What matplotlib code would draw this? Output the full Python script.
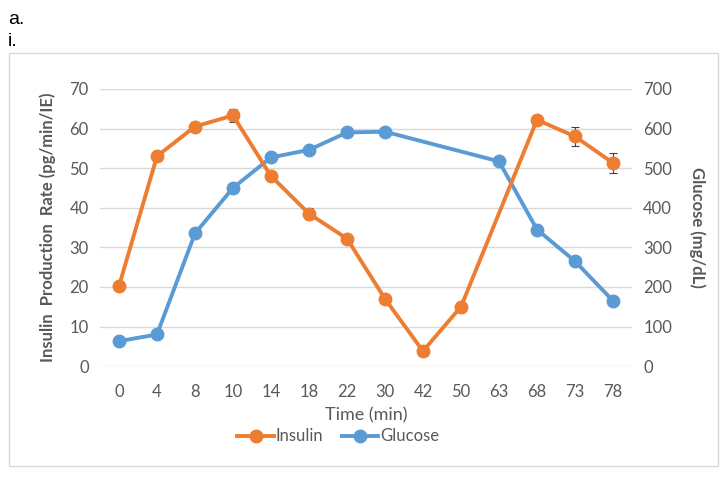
import numpy as np
import matplotlib.pyplot as plt
from matplotlib.patches import Rectangle
from matplotlib.lines import Line2D

# 数据
time_labels = ['0', '4', '8', '10', '14', '18', '22', '30', '42', '50', '63', '68', '73', '78']
insulin = [20.2, 53.0, 60.5, 63.3, 48.0, 38.5, 32.2, 17.0, 3.8, 15.0, np.nan, 62.2, 58.0, 51.3]
insulin_err = [0.5, 0.5, 0.5, 1.7, 0.5, 1.4, 0.5, 0.5, 0.5, 1.2, np.nan, 0.5, 2.4, 2.5]
glucose = [63, 80, 335, 450, 527, 546, 590, 592, np.nan, np.nan, 517, 345, 265, 165]

ORANGE = '#ED7D31'
BLUE = '#5B9BD5'
GREY = '#595959'

plt.rcParams['font.family'] = ['Lato', 'DejaVu Sans']

fig = plt.figure(figsize=(7.26, 4.78), dpi=100)

# 外框
fig.patches.append(Rectangle((0.0124, 0.025), 0.977, 0.864, transform=fig.transFigure,
                             fill=False, edgecolor='#d9d9d9', linewidth=1.0))
fig.text(0.011, 0.978, 'a.', fontsize=14, family='Liberation Sans', va='top')
fig.text(0.011, 0.932, 'i.', fontsize=14, family='Liberation Sans', va='top')

ax = fig.add_axes([0.1377, 0.234, 0.7328, 0.580])
ax2 = ax.twinx()

x = np.arange(len(time_labels))
ins = np.array(insulin, dtype=float)
err = np.array(insulin_err, dtype=float)
glu = np.array(glucose, dtype=float)
mi = ~np.isnan(ins)
mg = ~np.isnan(glu)

ax2.plot(x[mg], glu[mg], color=BLUE, lw=2.8, marker='o', ms=9)
ax.errorbar(x[mi], ins[mi], yerr=err[mi], color=ORANGE, lw=2.8, marker='o', ms=9,
            ecolor='#404040', elinewidth=0.8, capsize=3, capthick=0.8)

# 让橙色线在上层
ax.set_zorder(ax2.get_zorder() + 1)
ax.patch.set_visible(False)

ax.set_xlim(-0.5, len(time_labels) - 0.5)
ax.set_ylim(0, 70)
ax2.set_ylim(0, 700)
ax.set_yticks(range(0, 71, 10))
ax2.set_yticks(range(0, 701, 100))
ax.set_xticks(x)
ax.set_xticklabels(time_labels)

ax2.grid(axis='y', color='#d9d9d9', lw=1.0)
ax2.set_axisbelow(True)

for a in (ax, ax2):
    for s in a.spines.values():
        s.set_visible(False)
    a.tick_params(length=0, labelsize=12, colors=GREY, pad=8)
ax.tick_params(axis='x', pad=13)

ax.set_xlabel('Time (min)', fontsize=13, color=GREY, labelpad=5)
ax.set_ylabel('Insulin  Production  Rate (pg/min/IE)', fontsize=12, color=GREY,
              fontweight='bold', labelpad=10)
ax2.set_ylabel('Glucose (mg/dL)', fontsize=12, color=GREY, fontweight='bold',
               rotation=270, labelpad=24)

handles = [Line2D([], [], color=ORANGE, lw=2.8, marker='o', ms=9),
           Line2D([], [], color=BLUE, lw=2.8, marker='o', ms=9)]
fig.legend(handles, ['Insulin', 'Glucose'], loc='center', bbox_to_anchor=(0.466, 0.087),
           ncol=2, frameon=False, fontsize=12, labelcolor=GREY, handlelength=2.2,
           handletextpad=0.1, columnspacing=1.1)

fig.savefig('out.png', dpi=100)
